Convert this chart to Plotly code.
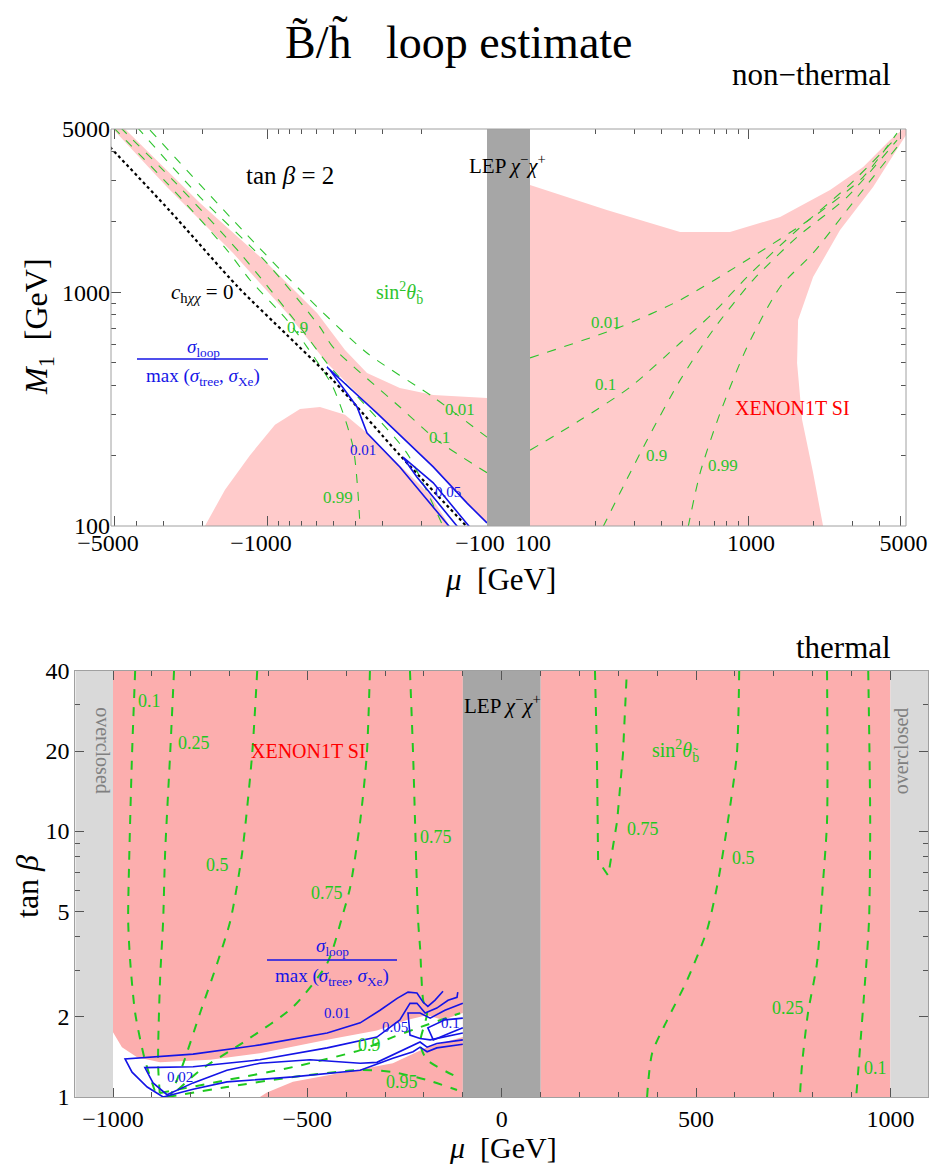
import numpy as np
import plotly.graph_objects as go

FIG_W, FIG_H = 929, 1164
SERIF = "Liberation Serif, Times New Roman, serif"

# ---------------- constants ----------------
LEP_MU = 100
OVERCLOSED_MU = 1000

# ================= TOP PANEL: non-thermal, tan(beta)=2 =================
# XENON1T SI exclusion (mu < 0): diagonal band
xe_neg_band_mu = [-5103, -4498, -2044, -1011, -597, -445, -353, -250, -176, -100, -100, -123, -176, -318, -538, -714, -819, -1445, -2892, -5103]
xe_neg_band_m1 = [5000, 5000, 2411, 1335, 815, 566, 452, 390, 364, 353, 103, 125, 179, 304, 498, 690, 815, 1473, 2822, 5000]
# XENON1T SI exclusion (mu < 0): lower mound
xe_neg_mound_mu = [-1940, -1571, -1208, -929, -714, -579, -445, -353, -250, -182, -148]
xe_neg_mound_m1 = [100, 143, 201, 271, 317, 323, 299, 250, 182, 136, 100]
# XENON1T SI exclusion (mu > 0)
xe_pos_mu = [100, 225, 488, 826, 1403, 2377, 3373, 4478, 5080, 5300, 5300, 3745, 2642, 1987, 1696, 1678, 1770, 1987, 2208, 100]
xe_pos_m1 = [2880, 2250, 1811, 1811, 2100, 2740, 3436, 4487, 4948, 5000, 4710, 2823, 1847, 1162, 761, 498, 284, 169, 100, 100]

# sin^2 theta_b contours, mu < 0
sb_neg = {
    "0.99": ([-5103, -2892, -1539, -1208, -819, -663, -505, -409, -380],
             [5097, 2935, 1517, 1129, 761, 583, 393, 218, 100]),
    "0.9": ([-4740, -2716, -1342, -714, -538, -353, -232, -159],
            [5097, 3023, 1473, 710, 498, 323, 205, 100]),
    "0.1": ([-3965, -2044, -1011, -579, -505, -250, -169, -100],
            [5097, 2557, 1335, 710, 583, 323, 233, 169]),
    "0.01": ([-3458, -1445, -663, -353, -176, -100],
             [4948, 2039, 955, 550, 356, 240]),
}
# sin^2 theta_b contours, mu > 0
sb_pos = {
    "0.01": ([100, 259, 488, 989, 1987, 3371, 4822], [524, 710, 927, 1375, 2100, 3114, 4804]),
    "0.1": ([100, 170, 288, 488, 691, 989, 1679, 2844, 4822], [211, 284, 393, 607, 815, 1163, 1848, 2822, 4618]),
    "0.9": ([216, 267, 344, 488, 691, 1054, 1679, 2844, 4822], [99, 147, 233, 421, 690, 1129, 1724, 2557, 4485]),
    "0.99": ([531, 603, 744, 989, 1403, 1987, 2844, 4822], [99, 169, 304, 583, 1054, 1473, 2250, 4187]),
}
# c_{h chi chi} = 0 (blind spot)
blind_mu = [-5267, -2803, -1371, -819, -505, -250, -123]
blind_m1 = [4187, 2228, 1054, 657, 421, 201, 99]
# sigma_loop / max(sigma_tree, sigma_Xe) contours
loop_top = {
    "0.01": ([-148, -250, -353, -392, -521, -538, -318, -176, -123, -100],
             [99, 179, 250, 323, 465, 479, 304, 179, 125, 103]),
    "0.05": ([-136, -176, -209, -242, -176, -120],
             [99, 133, 162, 197, 153, 99]),
}
top_sb_labels_neg = [("0.9", -737, 710), ("0.01", -133, 314), ("0.1", -164, 240), ("0.99", -479, 133)]
top_sb_labels_pos = [("0.01", 223, 746), ("0.1", 221, 405), ("0.9", 382, 201), ("0.99", 768, 182)]
top_loop_labels = [("0.01", -368, 211), ("0.05", -151, 140)]

# ================= BOTTOM PANEL: thermal =================
# region not excluded by XENON1T (white) inside mu<0 side
allowed_mu = [-1000, -977, -938, -879, -750, -622, -449, -321, -244, -192, -151, -100, -100, -192, -280, -408, -537, -604, -622, -1000]
allowed_tb = [1.75, 1.54, 1.41, 1.35, 1.38, 1.46, 1.64, 1.78, 1.95, 2.03, 1.95, 2.07, 1.68, 1.54, 1.34, 1.24, 1.14, 1.04, 1.0, 1.0]

sb_bot = {
    "0.1L": ([-943, -951, -958, -961, -956, -943, -918, -887], [40, 19.5, 8.23, 4.61, 3.27, 2.07, 1.38, 1.0]),
    "0.25L": ([-843, -853, -866, -871, -879, -884, -879], [40, 19.5, 8.23, 4.61, 2.75, 1.34, 1.0]),
    "0.5L": ([-629, -642, -668, -698, -732, -776, -819, -853], [40, 19.5, 8.23, 4.61, 3.18, 2.07, 1.34, 1.0]),
    "0.75L": ([-339, -347, -364, -390, -408, -449, -537, -655, -776, -853], [40, 19.5, 10.9, 6.13, 4.90, 3.18, 2.18, 1.64, 1.26, 1.0]),
    "0.75L2": ([-236, -228, -215, -210, -202, -192, -210, -192, -115], [40, 19.5, 4.61, 3.65, 2.31, 2.07, 1.59, 1.38, 1.19]),
    "0.9": ([-879, -707, -537, -364, -280, -210, -107], [1.035, 1.158, 1.296, 1.501, 1.679, 1.830, 2.066]),
    "0.95": ([-861, -707, -537, -364, -280, -192, -115], [1.0, 1.09, 1.189, 1.263, 1.241, 1.158, 1.062]),
    "0.75R": ([240, 245, 248, 274, 297, 312, 322], [40, 19.5, 7.74, 6.80, 10.9, 19.5, 40]),
    "0.5R": ([611, 605, 582, 557, 528, 477, 426, 387, 374], [40, 19.5, 10.9, 6.52, 4.23, 2.75, 1.95, 1.46, 1.0]),
    "0.25R": ([837, 837, 827, 811, 788, 773, 767], [40, 10.9, 6.52, 3.18, 2.07, 1.34, 1.0]),
    "0.1R": ([943, 948, 945, 935, 922, 912], [40, 10.9, 4.61, 2.75, 1.54, 1.0]),
}
loop_bot = {
    "0.01": ([-151, -172, -190, -202, -218, -241, -269, -313, -364, -449, -622, -794, -969, -951, -912, -871, -794, -707, -537, -364, -280, -228, -210, -192, -167, -100],
             [2.50, 2.31, 2.19, 2.27, 2.46, 2.48, 2.35, 2.12, 1.90, 1.74, 1.57, 1.45, 1.39, 1.24, 1.09, 1.0, 1.07, 1.14, 1.19, 1.26, 1.40, 1.48, 1.54, 1.48, 1.53, 1.58]),
    "0.02": ([-113, -115, -138, -167, -197, -218, -236, -262, -321, -449, -622, -794, -918, -897, -861, -794, -707, -622, -493, -364, -321, -236, -210, -192, -167, -100],
             [2.48, 2.37, 2.31, 2.16, 2.07, 2.25, 2.25, 1.95, 1.68, 1.53, 1.38, 1.30, 1.29, 1.13, 1.02, 1.13, 1.26, 1.34, 1.38, 1.34, 1.35, 1.54, 1.61, 1.54, 1.59, 1.64]),
    "0.05": ([-100, -146, -184, -210, -241, -236, -210, -184, -100],
             [2.25, 2.12, 1.98, 2.07, 2.07, 1.71, 1.66, 1.64, 1.74]),
    "0.1": ([-100, -146, -190, -176, -133, -100],
            [1.98, 1.95, 1.82, 1.64, 1.74, 1.82]),
}
bot_sb_labels = [("0.1", -907, 30.8), ("0.25", -791, 21.5), ("0.5", -732, 7.48), ("0.75", -449, 5.87),
                 ("0.75", -169, 9.53), ("0.9", -339, 1.567), ("0.95", -256, 1.138),
                 ("0.75", 364, 10.2), ("0.5", 621, 7.94), ("0.25", 737, 2.157), ("0.1", 961, 1.285)]
bot_loop_labels = [("0.01", -424, 2.07), ("0.02", -827, 1.19), ("0.05", -275, 1.83), ("0.1", -133, 1.90)]

# ---------------- styles ----------------
PINK_TOP = "#FFCBCB"
PINK_BOT = "#FCAEAE"
LEP_GRAY = "#A6A6A6"
OVER_GRAY = "#D9D9D9"
GREEN = "#2EC42E"
GREEN_BOT = "#1FC81F"
BLUE = "#1414E6"
FRAME = "#A0A0A0"
TICKC = "#555555"

# ---------------- layout geometry (paper fractions) ----------------
def P(px, py):
    return px / FIG_W, 1 - py / FIG_H

TOP_Y = [1 - 526 / FIG_H, 1 - 129 / FIG_H]
TOP_XL = [111 / FIG_W, 487 / FIG_W]
TOP_XR = [530 / FIG_W, 906 / FIG_W]
BOT_X = [75.3 / FIG_W, 928.1 / FIG_W]
BOT_Y = [1 - 1097 / FIG_H, 1 - 671 / FIG_H]
X_LEFT_RANGE = [np.log10(5210), 2]
X_RIGHT_RANGE = [2, np.log10(5300)]
Y_TOP_RANGE = [2, np.log10(5000)]
X_BOT_RANGE = [-1097, 1097]
Y_BOT_RANGE = [0, np.log10(40)]

fig = go.Figure()


def add_fill(xs, ys, color, xa, ya):
    fig.add_trace(go.Scatter(x=xs, y=ys, mode="lines", fill="toself", fillcolor=color,
                             line=dict(width=0, color=color), xaxis=xa, yaxis=ya,
                             hoverinfo="skip", showlegend=False))


def add_line(xs, ys, color, width, dash, xa, ya, smooth=False):
    ln = dict(color=color, width=width, dash=dash)
    if smooth:
        ln.update(shape="spline", smoothing=0.7)
    fig.add_trace(go.Scatter(x=xs, y=ys, mode="lines", line=ln,
                             xaxis=xa, yaxis=ya, hoverinfo="skip", showlegend=False))


def neg(vals):
    return [-v for v in vals]

# ----- top panel traces -----
add_fill(neg(xe_neg_band_mu), xe_neg_band_m1, PINK_TOP, "x", "y")
add_fill(neg(xe_neg_mound_mu), xe_neg_mound_m1, PINK_TOP, "x", "y")
add_fill(xe_pos_mu, xe_pos_m1, PINK_TOP, "x2", "y2")
for k, (mu, m1) in sb_neg.items():
    add_line(neg(mu), m1, GREEN, 1.1, "dash", "x", "y", smooth=True)
for k, (mu, m1) in sb_pos.items():
    add_line(mu, m1, GREEN, 1.1, "dash", "x2", "y2", smooth=True)
add_line(neg(blind_mu), blind_m1, "black", 2.2, "dot", "x", "y", smooth=True)
for k, (mu, m1) in loop_top.items():
    add_line(neg(mu), m1, BLUE, 1.6, "solid", "x", "y")

# ----- bottom panel traces -----
add_fill(allowed_mu, allowed_tb, "white", "x3", "y3")
for k, (mu, tb) in sb_bot.items():
    add_line(mu, tb, GREEN_BOT, 2.0, "dash", "x3", "y3", smooth=(k != "0.75R"))
for k, (mu, tb) in loop_bot.items():
    add_line(mu, tb, BLUE, 1.6, "solid", "x3", "y3")

# ---------------- shapes ----------------
shapes = []
shapes.append(dict(type="rect", xref="paper", yref="paper", x0=TOP_XL[1], x1=TOP_XR[0], y0=TOP_Y[0], y1=TOP_Y[1],
                   fillcolor=LEP_GRAY, line=dict(width=0), layer="below"))
shapes.append(dict(type="rect", xref="paper", yref="paper", x0=TOP_XL[0], x1=TOP_XR[1], y0=TOP_Y[0], y1=TOP_Y[1],
                   fillcolor="rgba(0,0,0,0)", line=dict(width=1, color=FRAME), layer="above"))
for x0, x1, col in [(-OVERCLOSED_MU, -LEP_MU, PINK_BOT), (LEP_MU, OVERCLOSED_MU, PINK_BOT),
                    (-LEP_MU, LEP_MU, LEP_GRAY),
                    (X_BOT_RANGE[0], -OVERCLOSED_MU, OVER_GRAY), (OVERCLOSED_MU, X_BOT_RANGE[1], OVER_GRAY)]:
    shapes.append(dict(type="rect", xref="x3", yref="y3 domain", x0=x0, x1=x1, y0=0, y1=1,
                       fillcolor=col, line=dict(width=0), layer="below"))
for (xa, xb, yy) in [(137, 268, 359), (267, 397, 960)]:
    xa_, yy_ = P(xa, yy)
    xb_, _ = P(xb, yy)
    shapes.append(dict(type="line", xref="paper", yref="paper", x0=xa_, x1=xb_, y0=yy_, y1=yy_,
                       line=dict(color=BLUE, width=1.3)))

# ---------------- annotations ----------------
anns = []


def A(text, x, y, xref="paper", yref="paper", size=16, color="black", angle=0, xanchor="center", yanchor="middle"):
    anns.append(dict(text=text, x=x, y=y, xref=xref, yref=yref, showarrow=False, textangle=angle,
                     font=dict(family=SERIF, size=size, color=color), xanchor=xanchor, yanchor=yanchor))


def AP(text, px, py, **kw):
    x, y = P(px, py)
    A(text, x, y, **kw)

AP("B\u0303/h\u0303   loop estimate", 459, 42, size=46)
AP("non\u2212thermal", 893, 75, size=31, xanchor="right")
AP("thermal", 893, 647, size=31, xanchor="right")

for t, mu, m1 in top_sb_labels_neg:
    A(t, np.log10(-mu), np.log10(m1), "x", "y", size=17, color=GREEN)
for t, mu, m1 in top_sb_labels_pos:
    A(t, np.log10(mu), np.log10(m1), "x2", "y2", size=17, color=GREEN)
for t, mu, m1 in top_loop_labels:
    A(t, np.log10(-mu), np.log10(m1), "x", "y", size=15, color=BLUE)
A("XENON1T SI", np.log10(1591), np.log10(320), "x2", "y2", size=20, color="red")
A("tan <i>\u03b2</i> = 2", np.log10(793), np.log10(3177), "x", "y", size=25)
A("<i>c</i><sub>h<i>\u03c7\u03c7</i></sub> = 0", np.log10(2000), np.log10(993), "x", "y", size=21)
A("sin<sup>2</sup><i>\u03b8</i><sub>b\u0303</sub>", np.log10(252), np.log10(993), "x", "y", size=20, color=GREEN)
AP("LEP <i>\u03c7</i><sup>\u2212</sup><i>\u03c7</i><sup>+</sup>", 507, 165, size=21)
AP("<i>\u03c3</i><sub>loop</sub>", 203, 348, size=19, color=BLUE)
AP("max (<i>\u03c3</i><sub>tree</sub>, <i>\u03c3</i><sub>Xe</sub>)", 203, 377, size=19, color=BLUE)
AP("<i>M</i><sub>1</sub>  [GeV]", 38, 327, size=32, angle=-90)
AP("<i>\u03bc</i>  [GeV]", 500, 579, size=31)

for t, mu, tb in bot_sb_labels:
    A(t, mu, np.log10(tb), "x3", "y3", size=18, color=GREEN_BOT)
for t, mu, tb in bot_loop_labels:
    A(t, mu, np.log10(tb), "x3", "y3", size=15, color=BLUE)
A("XENON1T SI", -498, np.log10(20), "x3", "y3", size=20, color="red")
A("sin<sup>2</sup><i>\u03b8</i><sub>b\u0303</sub>", 446, np.log10(20), "x3", "y3", size=20, color=GREEN_BOT)
A("LEP <i>\u03c7</i><sup>\u2212</sup><i>\u03c7</i><sup>+</sup>", 3, np.log10(30), "x3", "y3", size=21)
A("overclosed", -1026, np.log10(20), "x3", "y3", size=20, color="#808080", angle=90)
A("overclosed", 1028, np.log10(20), "x3", "y3", size=20, color="#808080", angle=-90)
AP("<i>\u03c3</i><sub>loop</sub>", 332, 947, size=19, color=BLUE)
AP("max (<i>\u03c3</i><sub>tree</sub>, <i>\u03c3</i><sub>Xe</sub>)", 332, 977, size=19, color=BLUE)
AP("<i>\u03bc</i>  [GeV]", 503, 1147, size=30)
AP("tan <i>\u03b2</i>", 27, 887, size=32, angle=-90)

# ---------------- axes ----------------
TICKFONT = dict(family=SERIF, size=24, color="black")
log_minor = [200, 300, 400, 500, 600, 700, 800, 900, 2000, 3000, 4000]


def axis_common(**kw):
    d = dict(showgrid=False, zeroline=False, ticks="inside", ticklen=10, tickwidth=1, tickcolor=TICKC,
             tickfont=TICKFONT, showline=False, automargin=False)
    d.update(kw)
    return d

layout_axes = dict(
    xaxis=axis_common(type="log", domain=TOP_XL, range=X_LEFT_RANGE, anchor="y",
                      tickmode="array", tickvals=[100, 1000, 5000], ticktext=["\u2212100", "\u22121000", "\u22125000"],
                      minor=dict(tickvals=log_minor, ticks="inside", ticklen=5, tickcolor=TICKC),
                      mirror="allticks", ticklabelshift=7),
    yaxis=axis_common(type="log", domain=TOP_Y, range=Y_TOP_RANGE, anchor="x",
                      tickmode="array", tickvals=[100, 1000, 5000], ticktext=["100", "1000", "5000"],
                      minor=dict(tickvals=log_minor, ticks="inside", ticklen=5, tickcolor=TICKC)),
    xaxis2=axis_common(type="log", domain=TOP_XR, range=X_RIGHT_RANGE, anchor="y2",
                       tickmode="array", tickvals=[100, 1000, 5000], ticktext=["100", "1000", "5000"],
                       minor=dict(tickvals=log_minor, ticks="inside", ticklen=5, tickcolor=TICKC),
                       mirror="allticks", ticklabelshift=3),
    yaxis2=axis_common(type="log", domain=TOP_Y, range=Y_TOP_RANGE, anchor="x2", side="right",
                       tickmode="array", tickvals=[100, 1000, 5000], showticklabels=False,
                       minor=dict(tickvals=log_minor, ticks="inside", ticklen=5, tickcolor=TICKC)),
    xaxis3=axis_common(domain=BOT_X, range=X_BOT_RANGE, anchor="y3",
                       tickmode="array", tickvals=[-1000, -500, 0, 500, 1000],
                       ticktext=["\u22121000", "\u2212500", "0", "500", "1000"], ticklen=9,
                       minor=dict(tickvals=[-900, -800, -700, -600, -400, -300, -200, -100, 100, 200, 300, 400, 600, 700, 800, 900],
                                  ticks="inside", ticklen=5, tickcolor=TICKC),
                       showline=True, linecolor=FRAME, mirror="allticks"),
    yaxis3=axis_common(type="log", domain=BOT_Y, range=Y_BOT_RANGE, anchor="x3",
                       tickmode="array", tickvals=[1, 2, 5, 10, 20, 40], ticktext=["1", "2", "5", "10", "20", "40"],
                       ticklen=9,
                       minor=dict(tickvals=[3, 4, 6, 7, 8, 9, 30], ticks="inside", ticklen=5, tickcolor=TICKC),
                       showline=True, linecolor=FRAME, mirror="allticks"),
)

fig.update_layout(
    template="none",
    width=FIG_W, height=FIG_H, margin=dict(l=0, r=0, t=0, b=0, pad=0, autoexpand=False),
    paper_bgcolor="white", plot_bgcolor="white", showlegend=False,
    font=dict(family=SERIF, size=16, color="black"),
    shapes=shapes, annotations=anns, **layout_axes,
)

fig.write_html("out.html")
